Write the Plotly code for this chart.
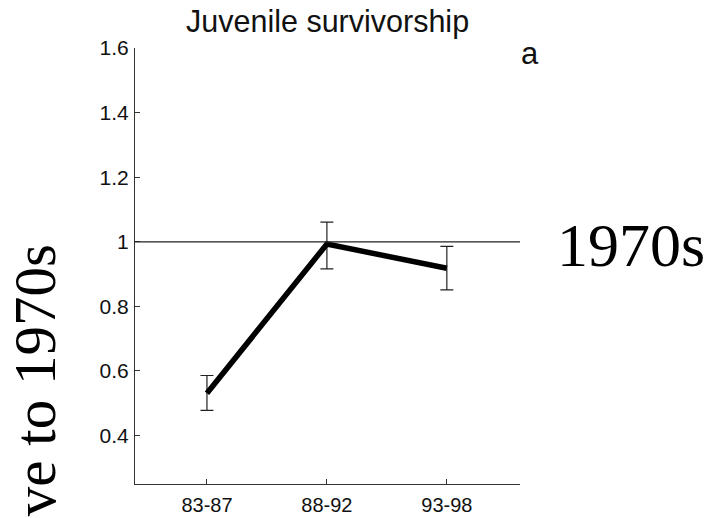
import plotly.graph_objects as go

periods = ["83-87", "88-92", "93-98"]
survivorship = [0.531, 0.993, 0.918]
err_plus = [0.055, 0.068, 0.068]
err_minus = [0.053, 0.077, 0.067]
reference_level = 1.0
y_ticks = [0.4, 0.6, 0.8, 1.0, 1.2, 1.4, 1.6]
y_ticktext = ["0.4", "0.6", "0.8", "1", "1.2", "1.4", "1.6"]

SANS = "Liberation Sans, Arial, sans-serif"
SERIF = "Liberation Serif, Times New Roman, serif"

fig = go.Figure()
fig.add_trace(go.Scatter(
    x=periods, y=survivorship, mode="lines",
    line=dict(color="black", width=5.5),
    error_y=dict(type="data", symmetric=False, array=err_plus, arrayminus=err_minus,
                 color="#222222", thickness=1.2, width=6.5),
    showlegend=False,
))

fig.add_shape(type="line", xref="paper", x0=0, x1=1, yref="y",
              y0=reference_level, y1=reference_level,
              line=dict(color="#222222", width=1.2))

fig.update_layout(
    width=710, height=518,
    margin=dict(l=135, r=190, t=48, b=34, autoexpand=False),
    paper_bgcolor="white", plot_bgcolor="white",
    font=dict(family=SANS, color="#111111", size=20),
    xaxis=dict(type="category", range=[-0.6, 2.61], showline=True, linecolor="#333333",
               linewidth=1.2, ticks="inside", ticklen=5, tickcolor="#333333",
               showgrid=False, zeroline=False, tickfont=dict(size=20), mirror=False,
               ticklabelstandoff=3, automargin=False),
    yaxis=dict(range=[0.25, 1.6], tickvals=y_ticks, ticktext=y_ticktext,
               showline=True, linecolor="#333333", linewidth=1.2, ticks="inside",
               ticklen=5, tickcolor="#333333", showgrid=False, zeroline=False,
               tickfont=dict(size=21), ticklabelstandoff=1, automargin=False),
)

fig.add_annotation(text="Juvenile survivorship", xref="paper", yref="paper",
                   x=0.5, y=1, yanchor="bottom", yshift=7, showarrow=False,
                   font=dict(family=SANS, size=30.5, color="#111111"))
fig.add_annotation(text="a", xref="paper", yref="paper", x=1, y=1,
                   xanchor="center", yanchor="top", xshift=10, yshift=14, showarrow=False,
                   font=dict(family=SANS, size=31, color="#111111"))
fig.add_annotation(text="1970s", xref="paper", yref="y", x=1, y=reference_level,
                   xanchor="left", yanchor="middle", xshift=35, yshift=-3, showarrow=False,
                   font=dict(family=SERIF, size=62, color="black"))
fig.add_annotation(text="ve to 1970s", xref="paper", yref="paper",
                   x=-0.26, y=0.238, textangle=-90, xanchor="center", yanchor="middle",
                   showarrow=False,
                   font=dict(family=SERIF, size=59, color="black"))

fig.write_html("out.html")
